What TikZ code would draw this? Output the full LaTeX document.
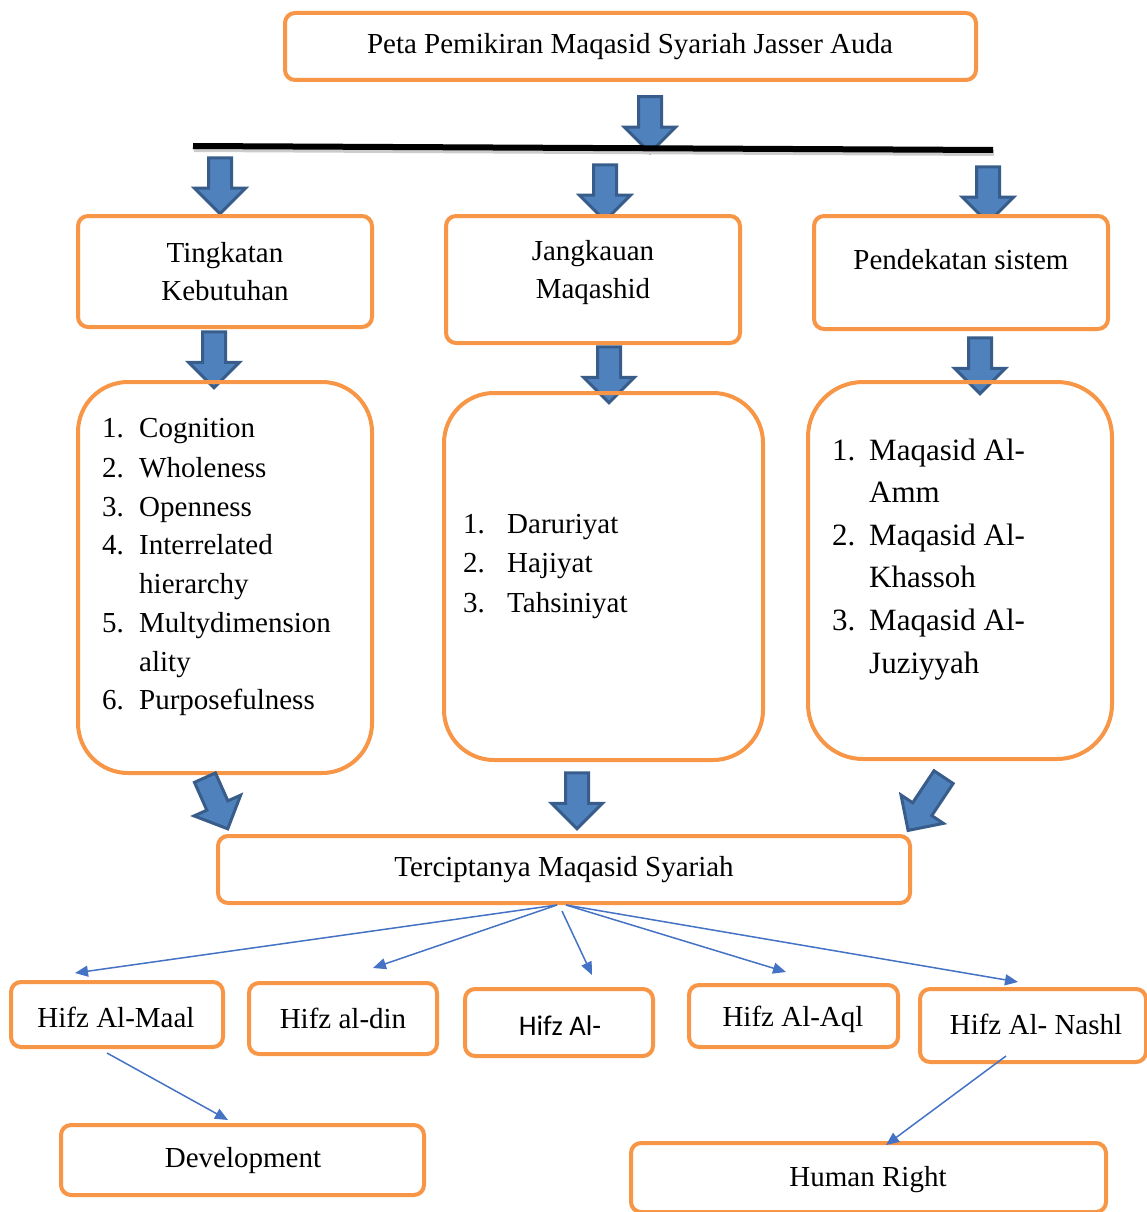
\documentclass[tikz,border=0pt]{standalone}
\usepackage{fontspec}
\setmainfont{Liberation Serif}
\newfontfamily\calib{Carlito}
\usetikzlibrary{shapes.arrows,arrows.meta}
\definecolor{obox}{HTML}{F79646}
\definecolor{afill}{HTML}{4F81BD}
\definecolor{aline}{HTML}{385D8A}
\definecolor{thinc}{HTML}{4472C4}
\begin{document}
\begin{tikzpicture}[x=1pt,y=-1pt,
  box/.style={draw=obox,line width=4pt,rounded corners=10pt,fill=white,inner sep=0pt,align=center,font=\fontsize{29}{38}\selectfont},
  bigbox/.style={draw=obox,line width=4pt,rounded corners=50pt,inner sep=0pt},
  txt/.style={inner sep=0pt,align=center,font=\fontsize{29}{38}\selectfont},
  lst/.style={inner sep=0pt,anchor=base west,font=\fontsize{29}{38}\selectfont},
  lstb/.style={inner sep=0pt,anchor=base west,font=\fontsize{31}{40}\selectfont},
  barrow/.style={single arrow,draw=aline,fill=afill,line width=3pt,inner xsep=0pt,inner ysep=10pt,
    single arrow head extend=14pt,minimum height=56pt},
  thinarrow/.style={draw=thinc,line width=1.5pt,-{Triangle[length=13pt,width=11pt]}}
]
\useasboundingbox (0,0) rectangle (1147,1212);

% top
\node[box,minimum width=691pt,minimum height=67pt] (top) at (630.5,46.5) {};
\node[txt] (topt) at (630,47) {Peta Pemikiran Maqasid Syariah Jasser Auda};
\node[barrow,rotate=-90] (a0) at (650,119) {};

% bar
\coordinate (bl) at (193,146);
\coordinate (br) at (993,150);
\draw[line width=6pt,black!20] ([shift={(1pt,-3pt)}]bl) -- ([shift={(1pt,-3pt)}]br);
\draw[line width=6pt] (bl) -- (br);

\node[barrow,rotate=-90] (a1) at (220,180) {};
\node[barrow,rotate=-90] (a2) at (605,187) {};
\node[barrow,rotate=-90] (a3) at (988,189) {};

% second row
\node[box,minimum width=294pt,minimum height=111pt] (b1) at (225,271.5) {Tingkatan\\Kebutuhan};
\node[box,minimum width=294pt,minimum height=127pt] (b2) at (593,279.5) {};
\node[txt] (b2t) at (593,273) {Jangkauan\\Maqashid};
\node[box,minimum width=294pt,minimum height=113pt] (b3) at (961,272.5) {};
\node[txt] (b3t) at (961,260) {Pendekatan sistem};

\node[barrow,rotate=-90] (a4) at (214,354) {};
\node[barrow,rotate=-90] (a5) at (609,369) {};
\node[barrow,rotate=-90] (a6) at (980,360) {};

% big boxes
\node[bigbox,minimum width=294pt,minimum height=391pt] (c1) at (225,577.5) {};
\node[bigbox,minimum width=319pt,minimum height=367pt] (c2) at (603.5,576.5) {};
\node[bigbox,minimum width=304pt,minimum height=377pt,rounded corners=55pt] (c3) at (960,570.5) {};

% list 1
\node[lst] (n11) at (102,437) {1.};  \node[lst] (t11) at (139,437) {Cognition};
\node[lst] (n12) at (102,477) {2.};  \node[lst] (t12) at (139,477) {Wholeness};
\node[lst] (n13) at (102,516) {3.};  \node[lst] (t13) at (139,516) {Openness};
\node[lst] (n14) at (102,554) {4.};  \node[lst] (t14) at (139,554) {Interrelated};
\node[lst] (t14b) at (139,593) {hierarchy};
\node[lst] (n15) at (102,632) {5.};  \node[lst] (t15) at (139,632) {Multydimension};
\node[lst] (t15b) at (139,671) {ality};
\node[lst] (n16) at (102,709) {6.};  \node[lst] (t16) at (139,709) {Purposefulness};

% list 2
\node[lst] (n21) at (463,533) {1.};  \node[lst] (t21) at (507,533) {Daruriyat};
\node[lst] (n22) at (463,572) {2.};  \node[lst] (t22) at (507,572) {Hajiyat};
\node[lst] (n23) at (463,612) {3.};  \node[lst] (t23) at (507,612) {Tahsiniyat};

% list 3
\node[lstb] (n31) at (832,460) {1.};  \node[lstb] (t31) at (869,460) {Maqasid Al-};
\node[lstb] (t31b) at (869,502) {Amm};
\node[lstb] (n32) at (832,545) {2.};  \node[lstb] (t32) at (869,545) {Maqasid Al-};
\node[lstb] (t32b) at (869,587) {Khassoh};
\node[lstb] (n33) at (832,630) {3.};  \node[lstb] (t33) at (869,630) {Maqasid Al-};
\node[lstb] (t33b) at (869,673) {Juziyyah};

% arrows to result
\node[barrow,rotate=-66] (a7) at (214,798) {};
\node[barrow,rotate=-90] (a8) at (577,795) {};
\node[barrow,rotate=-123.7,minimum height=64pt] (a9) at (929,799) {};

% result
\node[box,minimum width=692pt,minimum height=67pt] (tc) at (564,869.5) {Terciptanya Maqasid Syariah};

% bottom boxes
\node[box,minimum width=212pt,minimum height=65pt] (h1) at (117,1014.5) {};
\node[txt] (h1t) at (116,1017) {Hifz Al-Maal};
\node[box,minimum width=188pt,minimum height=71pt] (h2) at (343,1018.5) {Hifz al-din};
\node[box,minimum width=188pt,minimum height=67pt] (h3) at (559,1022.5) {};
\node[txt,font=\calib\fontsize{28.5}{32}\selectfont] (h3t) at (560,1026) {Hifz Al-};
\node[box,minimum width=209pt,minimum height=62pt] (h4) at (793.5,1016) {};
\node[txt] (h4t) at (793,1019) {Hifz Al-Aql};
\node[box,minimum width=226pt,minimum height=73pt] (h5) at (1033,1025.5) {};
\node[txt] (h5t) at (1036,1024) {Hifz Al- Nashl};

\node[box,minimum width=363pt,minimum height=70pt] (dev) at (242.5,1160) {};
\node[txt] (devt) at (243,1161) {Development};
\node[box,minimum width=475pt,minimum height=69pt] (hr) at (868.5,1177.5) {};
\node[txt] (hrt) at (868,1180) {Human Right};

% thin arrows
\coordinate (e1) at (75,973);
\coordinate (e2) at (373,968);
\coordinate (e3) at (592,975);
\coordinate (e4) at (786,972);
\coordinate (e5) at (1018,982);
\coordinate (s3) at (562,911);
\draw[thinarrow] ([xshift=-7pt]tc.south) -- (e1);
\draw[thinarrow] ([xshift=-7pt]tc.south) -- (e2);
\draw[thinarrow] (s3) -- (e3);
\draw[thinarrow] ([xshift=2pt]tc.south) -- (e4);
\draw[thinarrow] ([xshift=2pt]tc.south) -- (e5);

\coordinate (m0) at (107,1053);
\coordinate (m1) at (228,1120);
\draw[thinarrow] (m0) -- (m1);
\coordinate (n0) at (1006,1056);
\coordinate (n1) at (886,1145);
\draw[thinarrow] (n0) -- (n1);
\end{tikzpicture}
\end{document}
